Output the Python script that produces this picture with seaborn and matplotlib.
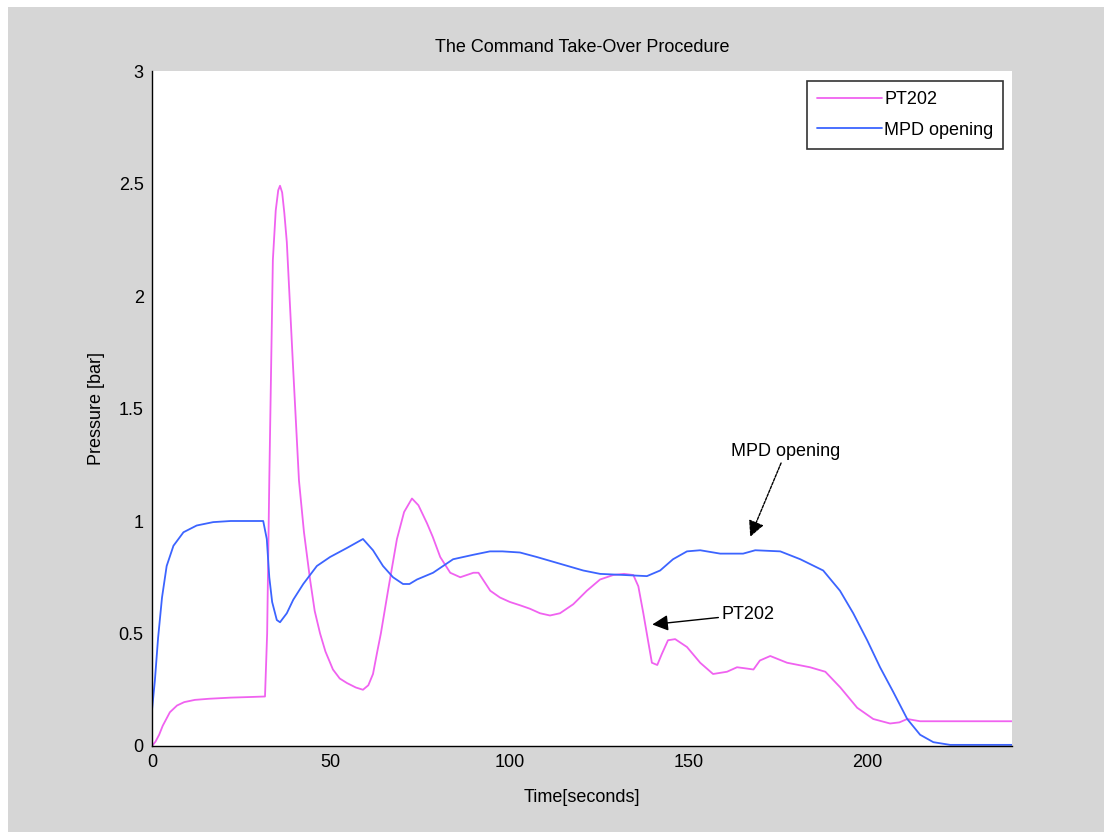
import matplotlib
matplotlib.use("Agg")
import matplotlib.pyplot as plt
import seaborn as sns
import pandas as pd
from matplotlib.patches import Rectangle
from matplotlib.lines import Line2D

# ---- data ----
pt202_t = [0, 1, 2, 3, 5, 7, 9, 12, 16, 22, 28, 31.6, 32.2, 32.8, 33.8, 34.6, 35.3, 35.8,
           36.4, 37.0, 37.7, 39.4, 41.1, 42.5, 44.2, 45.5, 47, 48.5, 50.6, 52.5, 54.5, 57,
           59, 60.5, 61.8, 63, 64, 66, 68.5, 70.5, 72.7, 74.5, 76.9, 78.5, 80.6, 83.4, 86.2,
           89.9, 91.3, 94.6, 97.3, 100.1, 103, 105.7, 108.5, 111.3, 114.1, 117.8, 121.6,
           125.3, 129, 132, 134.6, 136, 137.4, 138.7, 139.8, 141.3, 142.6, 144.3, 146.3,
           149.6, 153.3, 156.9, 160.8, 163.6, 166, 168.2, 170, 172.9, 177.6, 184, 188.3,
           192.5, 197.2, 201.7, 206.4, 209, 211.2, 214.8, 220, 230, 240.5]
pt202_v = [0, 0.02, 0.05, 0.09, 0.15, 0.18, 0.195, 0.205, 0.21, 0.215, 0.218, 0.22, 0.5, 1.18,
           2.16, 2.38, 2.47, 2.49, 2.46, 2.37, 2.24, 1.7, 1.18, 0.95, 0.74, 0.6, 0.5, 0.42,
           0.34, 0.3, 0.28, 0.26, 0.25, 0.27, 0.32, 0.42, 0.5, 0.69, 0.92, 1.04, 1.10, 1.07,
           0.99, 0.93, 0.84, 0.77, 0.75, 0.77, 0.77, 0.69, 0.66, 0.64, 0.625, 0.61, 0.59,
           0.58, 0.59, 0.63, 0.69, 0.74, 0.76, 0.765, 0.76, 0.71, 0.59, 0.47, 0.37, 0.36,
           0.41, 0.47, 0.475, 0.44, 0.37, 0.32, 0.33, 0.35, 0.345, 0.34, 0.38, 0.40, 0.37,
           0.35, 0.33, 0.26, 0.17, 0.12, 0.10, 0.105, 0.12, 0.11, 0.11, 0.11, 0.11]

mpd_t = [0, 0.8, 1.7, 2.8, 4.1, 6, 8.8, 12.5, 17.1, 22, 31.1, 32.1, 32.8, 33.6, 34.9, 35.8,
         37.7, 39.5, 42.3, 46.1, 49.8, 54.5, 59, 61.8, 64.6, 67.4, 70.2, 72, 74.1, 78.6,
         84.2, 89.9, 94.5, 98, 102.9, 107.6, 114.1, 120.6, 125.3, 132, 138.4, 142.1, 145.7,
         149.6, 153.3, 158.9, 165.3, 168.7, 175.7, 181.3, 187.7, 192.4, 196.1, 200, 203.6,
         207.3, 211.2, 214.8, 218.5, 223.2, 230, 240.5]
mpd_v = [0.16, 0.29, 0.48, 0.66, 0.80, 0.89, 0.95, 0.98, 0.995, 1.0, 1.0, 0.92, 0.75, 0.64,
         0.56, 0.55, 0.59, 0.65, 0.72, 0.80, 0.84, 0.88, 0.92, 0.87, 0.80, 0.75, 0.72, 0.72,
         0.74, 0.77, 0.83, 0.85, 0.865, 0.865, 0.86, 0.84, 0.81, 0.78, 0.765, 0.76, 0.755,
         0.78, 0.83, 0.865, 0.87, 0.855, 0.855, 0.87, 0.865, 0.83, 0.78, 0.69, 0.59, 0.47,
         0.35, 0.24, 0.12, 0.05, 0.017, 0.005, 0.005, 0.005]

series_names = ["PT202", "MPD opening"]
x_ticks = [0, 50, 100, 150, 200]
y_ticks = [0, 0.5, 1, 1.5, 2, 2.5, 3]
y_tick_labels = ["0", "0.5", "1", "1.5", "2", "2.5", "3"]

df = pd.concat([
    pd.DataFrame({"t": pt202_t, "v": pt202_v, "series": series_names[0]}),
    pd.DataFrame({"t": mpd_t, "v": mpd_v, "series": series_names[1]}),
], ignore_index=True)

sns.set_style("white")
plt.rcParams["font.family"] = ["Liberation Sans", "DejaVu Sans"]
plt.rcParams["text.color"] = "black"
plt.rcParams["axes.labelcolor"] = "black"
plt.rcParams["xtick.color"] = "black"
plt.rcParams["ytick.color"] = "black"

GRAY = "#d6d6d6"
fig = plt.figure(figsize=(11.04, 8.32), dpi=100, facecolor="white")
fig.patches.append(Rectangle((8 / 1104, 0), 1, (832 - 7) / 832, transform=fig.transFigure,
                             facecolor=GRAY, edgecolor="none", zorder=-10))
ax = fig.add_axes([152 / 1104, 86 / 832, 860 / 1104, 675 / 832])
ax.set_facecolor("white")

palette = {"PT202": "#f062f0", "MPD opening": "#3c64ff"}
sns.lineplot(data=df, x="t", y="v", hue="series", palette=palette, estimator=None,
             sort=False, linewidth=1.3, ax=ax, legend=False)

ax.set_xlim(0, 240.5)
ax.set_ylim(0, 3)
ax.set_xticks(x_ticks)
ax.set_yticks(y_ticks)
ax.set_yticklabels(y_tick_labels)
for s in ["top", "right"]:
    ax.spines[s].set_visible(False)
for s in ["left", "bottom"]:
    ax.spines[s].set_color("black")
    ax.spines[s].set_linewidth(1.0)
ax.tick_params(direction="in", length=6, width=1, colors="black", labelsize=13, pad=6)

ax.set_title("The Command Take-Over Procedure", fontsize=13, pad=14, color="black")
ax.set_xlabel("Time[seconds]", fontsize=13, labelpad=13, color="black")
ax.set_ylabel("Pressure [bar]", fontsize=13, labelpad=10, color="black")

handles = [Line2D([], [], color=palette[n], linewidth=1.3) for n in series_names]
leg = ax.legend(handles, series_names, loc="upper right", bbox_to_anchor=(0.99, 0.985),
                borderaxespad=0, fontsize=13, frameon=True, fancybox=False,
                handlelength=3.6, handletextpad=0.1, labelspacing=0.75,
                borderpad=0.55)
for txt in leg.get_texts():
    txt.set_color("black")
leg.get_frame().set_edgecolor("black")
leg.get_frame().set_linewidth(1.2)

arrow = dict(arrowstyle="-|>", color="black", lw=1.0, mutation_scale=24, shrinkA=0, shrinkB=0)
ax.annotate("MPD opening", xy=(167.3, 0.93), xytext=(177.3, 1.31), ha="center", va="center",
            fontsize=13, color="black", arrowprops=dict(arrow, linestyle=(0, (2, 1))))
ax.annotate("PT202", xy=(139.9, 0.54), xytext=(159.3, 0.585), ha="left", va="center",
            fontsize=13, color="black", arrowprops=arrow)

fig.savefig("out.png", dpi=100, facecolor=fig.get_facecolor())
